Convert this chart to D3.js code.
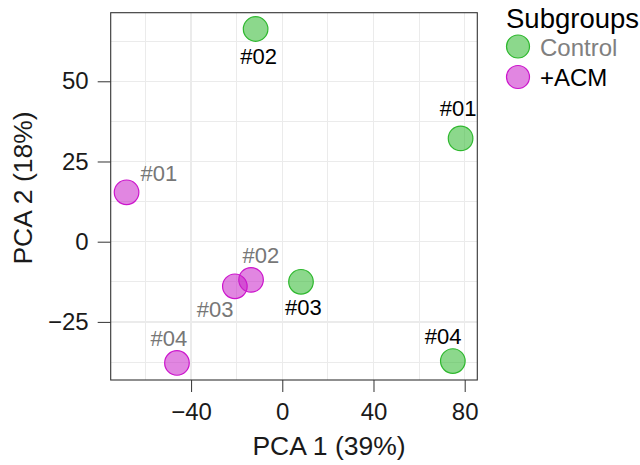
<!DOCTYPE html>
<html lang="en">
<head>
<meta charset="UTF-8">
<title>PCA plot</title>
<style>
  body { margin: 0; background: #fff; }
  #viz-container { width: 640px; height: 465px; }
  .chart text { font-family: "Liberation Sans", Arial, sans-serif; }
  .grid line { stroke: #ebebeb; shape-rendering: crispEdges; }
  .axis path { display: none; }
  .axis line { stroke: #333; }
  .axis text { fill: #1a1a1a; }
</style>
</head>
<body>
<div id="viz-container"></div>
<script src="https://cdnjs.cloudflare.com/ajax/libs/d3/7.8.5/d3.min.js"></script>
<script>
// values
var subgroupNames = ["Control", "+ACM"];
var groups = ["Control", "Control", "Control", "Control", "+ACM", "+ACM", "+ACM", "+ACM"];
var sampleLabels = ["#01", "#02", "#03", "#04", "#01", "#02", "#03", "#04"];
var pc1 = [78.2, -11.7, 8.2, 74.8, -68.3, -13.7, -20.8, -46.2];
var pc2 = [32.2, 66.3, -12.5, -37.2, 15.4, -11.9, -13.9, -37.8];
// where the repelled labels ended up (data units)
var labelPc1 = [77.1, -10.4, 9.2, 70.5, -54.1, -9.4, -29.5, -49.7];
var labelPc2 = [41.5, 57.7, -20.3, -29.6, 21.2, -4.2, -21.0, -30.1];
var xTicks = [-40, 0, 40, 80];
var yTicks = [-25, 0, 25, 50];
var xMinor = [-60, -20, 20, 60];
var yMinor = [-37.5, -12.5, 12.5, 37.5, 62.5];

var panel = { left: 110.7, right: 477.3, top: 12.7, bottom: 380 };

var fills = { "Control": "#2db82d", "+ACM": "#c823c8" };
var strokes = { "Control": "#2eb82e", "+ACM": "#cc14cc" };
var labelColors = { "Control": "#000", "+ACM": "#777" };

var svg = d3.select("#viz-container").
append("svg").
attr("class", "chart").
attr("width", 640).
attr("height", 465);

var x = d3.scaleLinear().
domain([-75.26, 85.53]).
range([panel.left, panel.right]);

var y = d3.scaleLinear().
domain([-43.11, 71.38]).
range([panel.bottom, panel.top]);

// grid
var grid = svg.append("g").attr("class", "grid");
grid.selectAll(".vminor").data(xMinor).enter().append("line").
attr("x1", function (d) {return x(d);}).attr("x2", function (d) {return x(d);}).
attr("y1", panel.top).attr("y2", panel.bottom).attr("stroke-width", 1);
grid.selectAll(".hminor").data(yMinor).enter().append("line").
attr("y1", function (d) {return y(d);}).attr("y2", function (d) {return y(d);}).
attr("x1", panel.left).attr("x2", panel.right).attr("stroke-width", 1);
grid.selectAll(".vmajor").data(xTicks).enter().append("line").
attr("x1", function (d) {return x(d);}).attr("x2", function (d) {return x(d);}).
attr("y1", panel.top).attr("y2", panel.bottom).attr("stroke-width", 1.3);
grid.selectAll(".hmajor").data(yTicks).enter().append("line").
attr("y1", function (d) {return y(d);}).attr("y2", function (d) {return y(d);}).
attr("x1", panel.left).attr("x2", panel.right).attr("stroke-width", 1.3);

var fmt = function (d) {return d < 0 ? "\u2212" + Math.abs(d) : String(d);};

// axes
var xAxis = svg.append("g").
attr("class", "axis").
attr("transform", "translate(0," + panel.bottom + ")").
call(d3.axisBottom(x).tickValues(xTicks).tickSize(12).tickPadding(11).tickFormat(fmt));
xAxis.selectAll("text").attr("font-size", 24);

var yAxis = svg.append("g").
attr("class", "axis").
attr("transform", "translate(" + panel.left + ",0)").
call(d3.axisLeft(y).tickValues(yTicks).tickSize(13).tickPadding(9).tickFormat(fmt));
yAxis.selectAll("text").attr("font-size", 24);

// panel border
svg.append("rect").
attr("x", panel.left).attr("y", panel.top).
attr("width", panel.right - panel.left).
attr("height", panel.bottom - panel.top).
attr("fill", "none").
attr("stroke", "#333").
attr("stroke-width", 1.1);

// points
var idx = d3.range(pc1.length);
svg.append("g").selectAll("circle").
data(idx).enter().append("circle").
attr("cx", function (i) {return x(pc1[i]);}).
attr("cy", function (i) {return y(pc2[i]);}).
attr("r", 12.3).
attr("fill", function (i) {return fills[groups[i]];}).
attr("fill-opacity", 0.55).
attr("stroke", function (i) {return strokes[groups[i]];}).
attr("stroke-width", 1.2);

// sample labels
svg.append("g").selectAll("text").
data(idx).enter().append("text").
attr("x", function (i) {return x(labelPc1[i]);}).
attr("y", function (i) {return y(labelPc2[i]) + 7.8;}).
attr("text-anchor", "middle").
attr("font-size", 22).
attr("fill", function (i) {return labelColors[groups[i]];}).
text(function (i) {return sampleLabels[i];});

// axis titles
svg.append("text").
attr("x", 329).
attr("y", 455).
attr("text-anchor", "middle").
attr("font-size", 26.5).
attr("fill", "#1a1a1a").
text("PCA 1 (39%)");

svg.append("text").
attr("transform", "translate(32,188) rotate(-90)").
attr("text-anchor", "middle").
attr("font-size", 26.5).
attr("fill", "#1a1a1a").
text("PCA 2 (18%)");

// legend
var legend = svg.append("g").attr("id", "legend");
legend.append("text").
attr("x", 506).
attr("y", 28).
attr("font-size", 27.5).
attr("fill", "#000").
text("Subgroups");

var rows = legend.selectAll(".row").
data(subgroupNames).enter().append("g").
attr("transform", function (d, i) {return "translate(518," + (46.5 + i * 30.5) + ")";});
rows.append("circle").
attr("r", 11.5).
attr("fill", function (d) {return fills[d];}).
attr("fill-opacity", 0.55).
attr("stroke", function (d) {return strokes[d];}).
attr("stroke-width", 1.2);
rows.append("text").
attr("x", 22).
attr("y", 9).
attr("font-size", 24).
attr("fill", function (d) {return d === "Control" ? "#808080" : "#000";}).
text(function (d) {return d;});
</script>
</body>
</html>
